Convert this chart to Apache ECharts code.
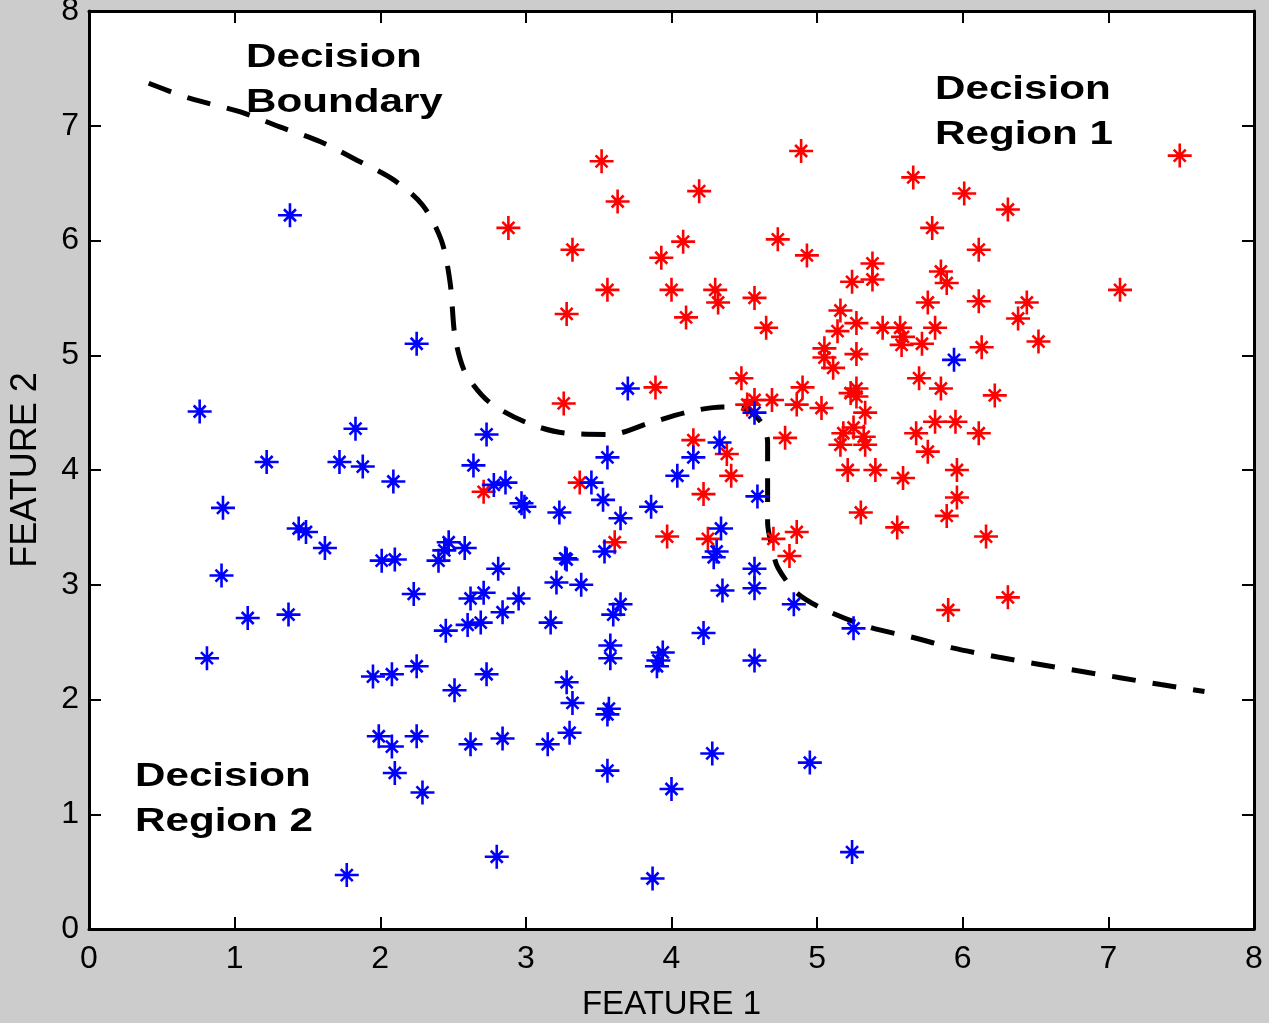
<!DOCTYPE html>
<html>
<head>
<meta charset="utf-8">
<script src="https://cdn.jsdelivr.net/npm/echarts@6/dist/echarts.min.js"></script>
<style>
html,body{margin:0;padding:0;background:#cccccc;}
#chart{width:1269px;height:1023px;}
</style>
</head>
<body>
<div id="chart"></div>
<script>
// ---- Data ----
const xTicks = [0,1,2,3,4,5,6,7,8];
const yTicks = [0,1,2,3,4,5,6,7,8];

const blueX = [1.38,2.25,0.76,1.83,1.22,1.72,1.88,2.09,2.73,2.64,2.78,2.86,2.97,2.99,3.23,3.56,3.45,3.53,3.65,3.86,3.70,0.92,1.44,1.49,1.62,2.01,2.10,2.40,2.44,2.47,2.58,0.91,2.23,2.62,2.71,2.81,1.09,1.37,2.45,2.60,2.69,2.84,2.95,3.17,3.27,3.28,3.21,3.38,3.54,3.65,3.60,3.58,3.58,3.94,3.90,3.91,4.22,4.57,4.35,4.57,4.57,4.29,4.31,4.34,4.59,4.84,5.25,4.04,4.15,4.33,4.57,0.81,1.95,2.08,2.25,2.51,2.73,3.28,3.32,3.57,3.56,1.99,2.08,2.25,2.62,2.84,3.15,3.30,2.10,2.29,3.56,4.28,4.95,4.00,1.77,2.80,3.87,5.24,5.94];
const blueY = [6.22,5.10,4.51,4.36,4.07,4.07,4.03,3.90,4.31,4.04,3.87,3.89,3.71,3.68,3.63,4.11,3.89,3.74,3.58,3.68,4.71,3.67,3.49,3.46,3.32,3.21,3.22,3.21,3.30,3.37,3.32,3.08,2.92,2.88,2.93,3.14,2.71,2.74,2.60,2.65,2.67,2.76,2.88,2.67,3.23,3.22,3.02,3.00,3.29,2.83,2.74,2.47,2.36,2.41,2.29,2.34,2.58,2.34,2.95,3.14,2.97,3.24,3.29,3.49,3.77,2.83,2.62,3.95,4.11,4.24,4.50,2.36,2.20,2.22,2.29,2.08,2.22,2.15,1.97,1.92,1.87,1.68,1.59,1.68,1.61,1.66,1.61,1.71,1.36,1.19,1.38,1.53,1.45,1.22,0.47,0.63,0.44,0.67,4.96];

const redX = [3.52,4.89,3.63,4.19,2.88,3.32,4.08,3.93,4.73,4.93,5.38,5.24,5.38,3.56,4.00,4.30,4.32,4.57,3.28,4.10,4.65,5.16,5.27,5.14,5.05,5.05,5.11,5.27,4.48,4.90,5.23,5.27,5.27,4.52,4.57,4.69,4.86,5.03,5.33,3.89,3.26,4.78,5.25,5.18,5.32,5.16,5.33,4.15,4.38,2.71,3.37,4.41,4.22,3.97,3.61,4.25,4.70,4.86,4.81,5.21,5.40,5.30,5.66,6.01,6.31,7.49,5.79,6.11,5.85,5.89,5.76,6.11,6.44,6.38,7.08,5.45,5.57,5.59,5.58,5.72,5.81,6.13,6.52,5.70,5.85,6.22,5.68,5.81,5.95,6.11,5.76,5.59,5.96,5.96,5.55,5.89,6.16,6.31,5.90];
const redY = [6.69,6.78,6.34,6.43,6.11,5.92,5.99,5.85,6.01,5.87,5.80,5.64,5.66,5.57,5.57,5.57,5.46,5.50,5.36,5.33,5.24,5.39,5.28,5.21,5.06,4.98,4.89,5.01,4.80,4.72,4.67,4.71,4.64,4.57,4.61,4.61,4.57,4.54,4.50,4.72,4.58,4.28,4.37,4.32,4.29,4.22,4.22,4.26,4.14,3.81,3.89,3.95,3.79,3.42,3.37,3.40,3.40,3.46,3.25,4.00,4.00,3.63,6.55,6.41,6.27,6.74,6.11,5.92,5.73,5.63,5.46,5.47,5.46,5.32,5.57,5.24,5.24,5.16,5.09,5.10,5.24,5.07,5.12,4.80,4.71,4.65,4.32,4.42,4.42,4.32,4.16,3.93,4.00,3.76,3.50,3.60,3.42,2.89,2.78];

const boundaryX = [0.41,0.69,1.04,1.31,1.59,1.84,2.09,2.29,2.42,2.48,2.51,2.55,2.60,2.75,3.01,3.28,3.58,3.85,4.13,4.35,4.49,4.62,4.66,4.66,4.66,4.66,4.69,4.73,4.86,5.04,5.36,5.66,5.93,6.24,6.51,6.79,7.08,7.36,7.66];
const boundaryY = [7.37,7.24,7.12,6.99,6.86,6.70,6.53,6.31,6.00,5.63,5.19,4.96,4.81,4.59,4.41,4.32,4.31,4.41,4.51,4.55,4.54,4.41,4.24,4.06,3.85,3.54,3.33,3.15,2.93,2.79,2.63,2.54,2.45,2.37,2.31,2.25,2.19,2.13,2.07];

const xTitle = 'FEATURE 1';
const yTitle = 'FEATURE 2';
const annotations = ['Decision\nBoundary', 'Decision\nRegion 1', 'Decision\nRegion 2'];

// ---- Build ----
const zip = (a, b) => a.map((v, i) => [v, b[i]]);
const FONT = '"Liberation Sans", Arial, Helvetica, sans-serif';
const star = 'path://M12,0V24M0,12H24M6,6L18,18M6,18L18,6';

const chart = echarts.init(document.getElementById('chart'), null, {renderer: 'canvas'});

const baseAxis = {
  type: 'value', min: 0, max: 8, interval: 1,
  splitLine: {show: false},
  axisLine: {show: true, onZero: false, lineStyle: {color: '#000', width: 3}},
  axisTick: {show: true, inside: true, length: 12, lineStyle: {color: '#000', width: 2}}
};

const option = {
  backgroundColor: '#cccccc',
  animation: false,
  grid: {left: 89, right: 15, top: 11, bottom: 94, show: true, backgroundColor: '#ffffff', borderWidth: 0, outerBoundsMode: 'none'},
  xAxis: [
    Object.assign({}, baseAxis, {
      position: 'bottom',
      axisLabel: {show: true, color: '#000', fontSize: 32, fontFamily: FONT, margin: 14,
        formatter: v => xTicks.includes(v) ? String(v) : ''},
      name: xTitle, nameLocation: 'middle', nameGap: 59,
      nameTextStyle: {color: '#000', fontSize: 33, fontFamily: FONT}
    }),
    Object.assign({}, baseAxis, {position: 'top', axisLabel: {show: false}})
  ],
  yAxis: [
    Object.assign({}, baseAxis, {
      position: 'left',
      axisLabel: {show: true, color: '#000', fontSize: 32, fontFamily: FONT, margin: 10,
        formatter: v => yTicks.includes(v) ? String(v) : ''},
      name: yTitle, nameLocation: 'middle', nameGap: 45,
      nameTextStyle: {color: '#000', fontSize: 36, fontFamily: FONT}
    }),
    Object.assign({}, baseAxis, {position: 'right', axisLabel: {show: false}})
  ],
  series: [
    {
      type: 'line', name: 'boundary', data: zip(boundaryX, boundaryY),
      showSymbol: false, symbol: 'none', smooth: 0.3, z: 2,
      lineStyle: {color: '#000', width: 5, type: [24, 17], cap: 'butt', opacity: 1},
      emphasis: {disabled: true}, silent: true
    },
    {
      type: 'scatter', name: 'class1', data: zip(redX, redY),
      symbol: star, symbolSize: 24, z: 3,
      itemStyle: {color: 'rgba(0,0,0,0)', borderColor: '#ff0000', borderWidth: 2.6, opacity: 1},
      emphasis: {disabled: true}, silent: true
    },
    {
      type: 'scatter', name: 'class2', data: zip(blueX, blueY),
      symbol: star, symbolSize: 24, z: 4,
      itemStyle: {color: 'rgba(0,0,0,0)', borderColor: '#0000ff', borderWidth: 2.6, opacity: 1},
      emphasis: {disabled: true}, silent: true
    }
  ],
  graphic: [
    {type: 'text', x: 246, y: 35, scaleX: 1.24, z: 10,
      style: {text: annotations[0], fontSize: 34, fontWeight: 'bold', fontFamily: FONT, fill: '#000', lineHeight: 45, verticalAlign: 'top', align: 'left'}},
    {type: 'text', x: 935, y: 67, scaleX: 1.24, z: 10,
      style: {text: annotations[1], fontSize: 34, fontWeight: 'bold', fontFamily: FONT, fill: '#000', lineHeight: 45, verticalAlign: 'top', align: 'left'}},
    {type: 'text', x: 135, y: 754, scaleX: 1.24, z: 10,
      style: {text: annotations[2], fontSize: 34, fontWeight: 'bold', fontFamily: FONT, fill: '#000', lineHeight: 45, verticalAlign: 'top', align: 'left'}}
  ]
};

chart.setOption(option);
</script>
</body>
</html>
